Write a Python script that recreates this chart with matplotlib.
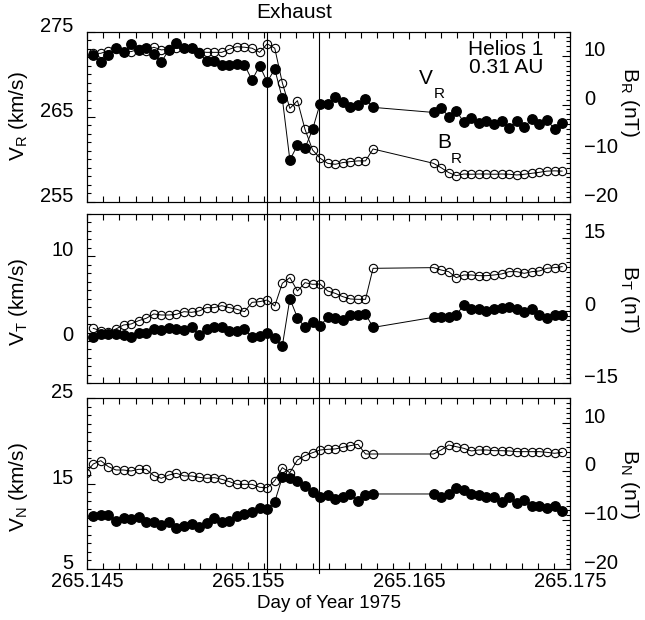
import numpy as np
import matplotlib.pyplot as plt
from matplotlib.ticker import MultipleLocator, FixedLocator, FormatStrFormatter
from matplotlib.lines import Line2D

plt.rcParams['font.family'] = ['Liberation Sans', 'DejaVu Sans']
plt.rcParams['mathtext.fontset'] = 'custom'
plt.rcParams['mathtext.rm'] = 'Liberation Sans'

# Helios 1 plasma (filled) and field (open) data, 40.5 s samples
day = [265.14490,
       265.14537, 265.14584, 265.14631, 265.14678, 265.14725, 265.14772, 265.14819, 265.14866,
       265.14913, 265.14960, 265.15007, 265.15054, 265.15101, 265.15148, 265.15195, 265.15242,
       265.15289, 265.15336, 265.15383, 265.15430, 265.15477, 265.15524, 265.15571, 265.15618,
       265.15665, 265.15712, 265.15759, 265.15806, 265.15853, 265.15900, 265.15947, 265.15994,
       265.16041, 265.16088, 265.16135, 265.16182, 265.16229, 265.16276,
       265.16652, 265.16699, 265.16746, 265.16793, 265.16840, 265.16887, 265.16934, 265.16981,
       265.17028, 265.17075, 265.17122, 265.17169, 265.17216, 265.17263, 265.17310, 265.17357,
       265.17404, 265.17451]

v_r = [np.nan,
       272.2, 271.4, 272.3, 273.1, 272.65, 273.55, 272.85, 273.1, 272.35, 271.4, 272.9, 273.7,
       273.05, 273.05, 272.55, 271.5, 271.55, 271.1, 271.1, 271.2, 271.1, 269.3, 271.0, 269.1,
       270.6, 267.15, 259.9, 261.65, 261.3, 263.5, 266.55, 266.45, 267.35, 266.75, 266.1, 266.4,
       267.1, 266.1,
       265.5, 266.05, 265.0, 265.7, 264.35, 264.9, 264.2, 264.55, 264.15, 264.5, 263.7, 264.55,
       263.8, 264.7, 264.15, 264.6, 263.55, 264.3]
b_r = [np.nan,
       10.55, 10.55, 11.1, 11.4, 10.9, 10.9, 11.4, 11.1, 11.8, 11.25, 11.4, 11.6, 11.6, 11.6,
       10.9, 10.75, 10.75, 10.75, 11.4, 11.9, 11.8, 11.6, 10.75, 12.5, 11.6, 4.5, -0.8, 0.8,
       -5.1, -9.35, -11.05, -12.1, -12.3, -11.95, -11.75, -11.6, -11.6, -9.15,
       -12.1, -13.0, -14.0, -14.65, -14.3, -14.35, -14.3, -14.3, -14.35, -14.3, -14.35, -14.5,
       -14.35, -14.15, -13.95, -13.7, -13.65, -13.7]

v_t = [np.nan,
       0.43, 0.79, 0.79, 0.79, 0.7, 0.5, 0.9, 1.0, 1.4, 1.3, 1.5, 1.4, 1.3, 1.6, 0.7, 1.4,
       1.6, 1.6, 1.2, 1.2, 1.4, 0.43, 0.6, 1.0, 0.3, -0.6, 5.0, 2.75, 1.6, 2.2, 1.77, 2.8,
       2.67, 2.48, 3.07, 3.07, 3.19, 1.6,
       2.8, 2.8, 2.87, 3.07, 4.25, 3.74, 3.74, 3.58, 3.74, 3.86, 4.0, 3.74, 3.46, 3.74, 3.07,
       2.67, 3.07, 3.07]
b_t = [np.nan,
       -3.64, -4.12, -4.33, -3.77, -2.95, -2.74, -2.05, -1.57, -0.67, -0.88, -0.88, -0.74,
       -0.19, -0.33, -0.05, 0.64, 0.64, 1.05, 0.64, 0.29, -0.19, 1.74, 1.88, 2.22, 0.98, 5.67,
       6.84, 4.08, 5.8, 5.46, 5.53, 4.08, 3.6, 2.91, 2.43, 2.36, 2.36, 8.77,
       8.91, 8.42, 8.08, 6.84, 7.39, 7.39, 7.25, 7.25, 7.39, 7.6, 8.08, 8.08, 7.73, 8.08, 8.22,
       8.77, 8.91, 9.11]

v_n = [np.nan,
       11.21, 11.33, 11.33, 10.62, 11.01, 10.86, 11.13, 10.47, 10.55, 10.16, 10.47, 9.76,
       10.04, 10.27, 9.96, 10.35, 10.94, 10.47, 10.62, 11.25, 11.44, 11.64, 12.11, 12.03,
       12.89, 15.74, 15.62, 15.35, 14.72, 14.06, 13.47, 13.67, 13.2, 13.47, 13.79, 12.97,
       13.67, 13.79,
       13.79, 13.47, 13.79, 14.45, 14.26, 13.79, 13.67, 13.47, 13.47, 12.89, 13.47, 12.69,
       13.08, 12.38, 12.38, 12.11, 12.38, 11.83]
b_n = [-0.3,
       1.53, 2.21, 0.98, 0.3, 0.3, 0.09, 0.44, 0.44, -0.86, -1.41, -0.73, -0.38, -0.93, -0.93,
       -1.2, -1.41, -1.27, -1.61, -2.09, -2.64, -2.64, -2.64, -3.25, -3.32, -1.89, 0.78, -0.25,
       2.35, 3.24, 3.85, 4.4, 4.54, 4.61, 4.95, 5.29, 5.56, 3.58, 3.58,
       3.58, 4.4, 5.43, 5.08, 4.74, 4.2, 4.4, 4.4, 4.26, 4.26, 4.2, 4.06, 4.06, 4.06, 4.06,
       3.92, 3.72, 3.92]

exhaust_edges = [265.15619, 265.15940]
x_ticks = [265.145, 265.155, 265.165, 265.175]

panels = [
    # (V data, B data, V limits, B limits, V majors, B majors, V label, B label)
    (v_r, b_r, (255, 275), (-20, 15), [255, 265, 275], [-20, -10, 0, 10],
     'V$_\\mathregular{R}$ (km/s)', 'B$_\\mathregular{R}$ (nT)'),
    (v_t, b_t, (-5, 15), (-15, 20), [0, 10], [-15, 0, 15],
     'V$_\\mathregular{T}$ (km/s)', 'B$_\\mathregular{T}$ (nT)'),
    (v_n, b_n, (5, 25), (-20, 15), [5, 15, 25], [-20, -10, 0, 10],
     'V$_\\mathregular{N}$ (km/s)', 'B$_\\mathregular{N}$ (nT)'),
]

W, H = 645, 620
fig = plt.figure(figsize=(W / 100, H / 100), dpi=100)

left_px, right_px = 87.3, 570
boxes = [(31.7, 201.7), (214, 383.3), (398.3, 569)]   # top, bottom in pixels
label_y = [(116, 102), (302, 299), (487, 484)]        # left / right label centers

tick_fs = 14.5
label_fs = 15

for i, (v, b, vlim, blim, vmaj, bmaj, vlab, blab) in enumerate(panels):
    top, bot = boxes[i]
    ax = fig.add_axes([left_px / W, 1 - bot / H, (right_px - left_px) / W, (bot - top) / H])
    ax2 = ax.twinx()

    ax2.plot(day, b, '-o', color='black', mfc='none', ms=6.0, mew=0.8, lw=0.7)
    ax.plot(day, v, '-o', color='black', ms=6.8, lw=0.7)

    ax.set_xlim(265.145, 265.175)
    ax.set_ylim(*vlim)
    ax2.set_ylim(*blim)

    ax.xaxis.set_major_locator(FixedLocator(x_ticks))
    ax.xaxis.set_minor_locator(MultipleLocator(0.001))
    ax.xaxis.set_major_formatter(FormatStrFormatter('%.3f'))
    ax.yaxis.set_major_locator(FixedLocator(vmaj))
    ax.yaxis.set_minor_locator(MultipleLocator(1))
    ax2.yaxis.set_major_locator(FixedLocator(bmaj))
    ax2.yaxis.set_minor_locator(MultipleLocator(1))

    ax.tick_params(axis='x', which='both', direction='in', top=True, bottom=True,
                   labelbottom=(i == 2), labelsize=tick_fs, pad=2, width=0.8)
    ax.tick_params(axis='x', which='major', length=5)
    ax.tick_params(axis='x', which='minor', length=4)
    for a in (ax, ax2):
        a.tick_params(axis='y', which='both', direction='in', labelsize=tick_fs, pad=10, width=0.8)
        a.tick_params(axis='y', which='major', length=5.5)
        a.tick_params(axis='y', which='minor', length=3)
        for lab in a.get_yticklabels():
            lab.set_va('baseline')
        for s in a.spines.values():
            s.set_linewidth(0.8)

    fig.text(19 / W, 1 - label_y[i][0] / H, vlab, rotation=90, ha='center', va='center',
             fontsize=label_fs)
    fig.text(629 / W, 1 - label_y[i][1] / H, blab, rotation=270, ha='center', va='center',
             fontsize=label_fs)

    if i == 2:
        ax.set_xlabel('Day of Year 1975', fontsize=13.5, labelpad=3)
        bottom_ax = ax

# exhaust boundaries, drawn across all three panels
for x in exhaust_edges:
    xf = bottom_ax.transData.transform((x, 0))[0] / fig.dpi / fig.get_figwidth()
    fig.add_artist(Line2D([xf, xf], [1 - 31.7 / H, 1 - 573 / H], color='black', lw=0.8))

fig.text(294 / W, 1 - 12 / H, 'Exhaust', ha='center', va='center', fontsize=label_fs)
fig.text(543 / W, 1 - 49.5 / H, 'Helios 1', ha='right', va='center', fontsize=label_fs)
fig.text(543 / W, 1 - 67.5 / H, '0.31 AU', ha='right', va='center', fontsize=label_fs)
fig.text(426 / W, 1 - 79 / H, 'V', ha='center', va='center', fontsize=label_fs)
fig.text(439 / W, 1 - 94 / H, 'R', ha='center', va='center', fontsize=11)
fig.text(444 / W, 1 - 142 / H, 'B', ha='center', va='center', fontsize=label_fs)
fig.text(456 / W, 1 - 159 / H, 'R', ha='center', va='center', fontsize=11)

fig.savefig('out.png', dpi=100)
